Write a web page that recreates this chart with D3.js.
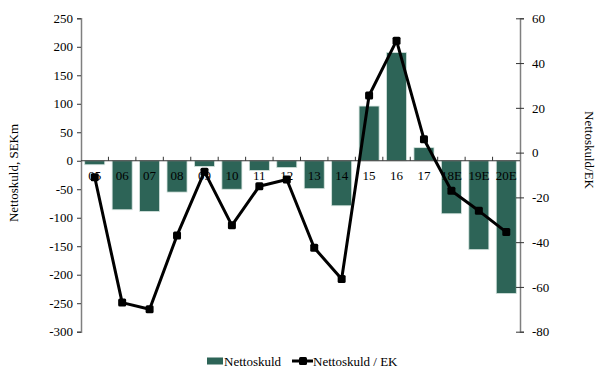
<!DOCTYPE html>
<html>
<head>
<meta charset="utf-8">
<script src="https://cdn.jsdelivr.net/npm/d3@7/dist/d3.min.js"></script>
<style>
  html, body { margin: 0; padding: 0; background: #fff; }
  svg { display: block; }
  svg text { font-family: "Liberation Serif", "Times New Roman", serif !important; fill: #000; }
</style>
</head>
<body>
<svg id="chart" width="598" height="368"></svg>
<script>
// Year labels along the category axis
const categories = ["05","06","07","08","09","10","11","12","13","14","15","16","17","18E","19E","20E"];
// Net debt, SEKm (left axis, bars)
const nettoskuld = [-7, -86, -89, -55, -10, -50, -17, -12, -49, -79, 96, 190, 23, -93, -156, -233];
// Net debt / equity, % (right axis, line)
const nettoskuldEk = [-11, -67, -70, -37, -8.5, -32.5, -15, -12, -42.5, -56.5, 25.5, 50, 6, -17, -26, -35.5];
const leftTicks = [250, 200, 150, 100, 50, 0, -50, -100, -150, -200, -250, -300];
const rightTicks = [60, 40, 20, 0, -20, -40, -60, -80];

const svg = d3.select("#chart");
const x0 = 81, x1 = 520, yTop = 18.3, yBot = 331.7;
const axisColor = "#7f7f7f";
const barColor = "#2d6457";
const plain = d => String(d); // hyphen-minus, as in the printed report

const x = d3.scaleBand().domain(categories).range([x0, x1]).paddingInner(0.27).paddingOuter(0.135);
const yL = d3.scaleLinear().domain([-300, 250]).range([yBot, yTop]);
const yR = d3.scaleLinear().domain([-80, 60]).range([yBot, yTop]);

// Bars
svg.append("g").selectAll("rect").data(categories).join("rect")
  .attr("x", d => x(d))
  .attr("width", x.bandwidth())
  .attr("y", (d, i) => yL(Math.max(0, nettoskuld[i])))
  .attr("height", (d, i) => Math.abs(yL(nettoskuld[i]) - yL(0)))
  .attr("fill", barColor)
  .attr("stroke", "#d6e4df")
  .attr("stroke-width", 0.8);

// Left axis
const gL = svg.append("g").attr("transform", `translate(${x0},0)`)
  .call(d3.axisLeft(yL).tickValues(leftTicks).tickSize(4).tickPadding(4).tickFormat(plain));
// Right axis
const gR = svg.append("g").attr("transform", `translate(${x1},0)`)
  .call(d3.axisRight(yR).tickValues(rightTicks).tickSize(4).tickPadding(8).tickFormat(plain));
gR.selectAll(".tick line").attr("x1", -4);

[gL, gR].forEach(g => {
  g.select(".domain").attr("stroke", axisColor).attr("stroke-width", 1.5);
  g.selectAll(".tick line").attr("stroke", "#333").attr("stroke-width", 1);
  g.selectAll(".tick text").style("font-size", "13px");
});

// Category axis along the zero line
const gX = svg.append("g").attr("transform", `translate(0,${yL(0)})`)
  .call(d3.axisBottom(x).tickSize(0).tickPadding(10));
gX.select(".domain").remove();
gX.selectAll(".tick text").style("font-size", "13px");
svg.append("line").attr("x1", x0).attr("x2", x1).attr("y1", yL(0)).attr("y2", yL(0))
  .attr("stroke", "#333").attr("stroke-width", 1.2);
const step = x.step();
svg.append("g").selectAll("line").data(d3.range(1, categories.length)).join("line")
  .attr("x1", i => x0 + i * step).attr("x2", i => x0 + i * step)
  .attr("y1", yL(0) - 4).attr("y2", yL(0))
  .attr("stroke", "#333").attr("stroke-width", 1);

// Line series
const cx = d => x(d) + x.bandwidth() / 2;
const line = d3.line().x((d, i) => cx(categories[i])).y(d => yR(d));
svg.append("path").datum(nettoskuldEk).attr("d", line)
  .attr("fill", "none").attr("stroke", "#000").attr("stroke-width", 3).attr("stroke-linejoin", "round");
svg.append("g").selectAll("rect").data(nettoskuldEk).join("rect")
  .attr("x", (d, i) => cx(categories[i]) - 4).attr("y", d => yR(d) - 4)
  .attr("width", 8).attr("height", 8).attr("rx", 1.5).attr("fill", "#000");

// Axis titles
svg.append("text").attr("transform", "translate(18,173) rotate(-90)")
  .attr("text-anchor", "middle").style("font-size", "13px").text("Nettoskuld, SEKm");
svg.append("text").attr("transform", "translate(585,150) rotate(90)")
  .attr("text-anchor", "middle").style("font-size", "13px").text("Nettoskuld/EK");

// Legend
const lg = svg.append("g");
lg.append("rect").attr("x", 207).attr("y", 357.5).attr("width", 16).attr("height", 7).attr("fill", barColor);
lg.append("text").attr("x", 224).attr("y", 366).style("font-size", "13px").text("Nettoskuld");
lg.append("line").attr("x1", 292).attr("x2", 313).attr("y1", 361).attr("y2", 361)
  .attr("stroke", "#000").attr("stroke-width", 3);
lg.append("rect").attr("x", 299).attr("y", 357).attr("width", 8).attr("height", 8).attr("rx", 1.5).attr("fill", "#000");
lg.append("text").attr("x", 313).attr("y", 366).style("font-size", "13px").text("Nettoskuld / EK");
</script>
</body>
</html>
